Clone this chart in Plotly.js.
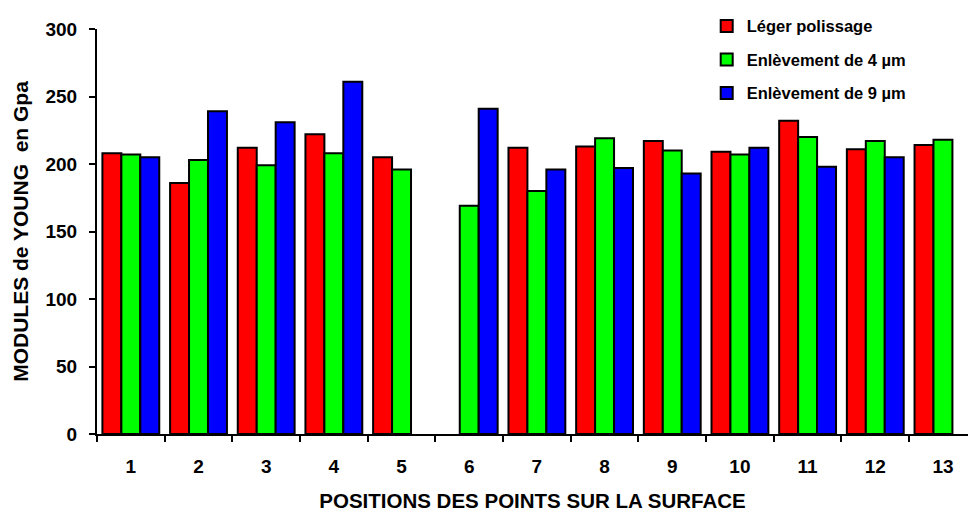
<!DOCTYPE html>
<html><head><meta charset="utf-8">
<script src="https://cdn.plot.ly/plotly-3.0.1.min.js"></script>
<style>html,body{margin:0;padding:0;background:#fff}#c{width:968px;height:512px}</style>
</head><body><div id="c"></div>
<script>
const categories = ['1','2','3','4','5','6','7','8','9','10','11','12','13'];
const legerPolissage = [208, 186, 212, 222, 205, null, 212, 213, 217, 209, 232, 211, 214];
const enlevement4 = [207, 203, 199, 208, 196, 169, 180, 219, 210, 207, 220, 217, 218];
const enlevement9 = [205, 239, 231, 261, null, 241, 196, 197, 193, 212, 198, 205, null];
const seriesNames = ['Léger polissage', 'Enlèvement de 4 µm', 'Enlèvement de 9 µm'];
const colors = ['#ff0000', '#00ff00', '#0000ff'];
const yTicks = [0, 50, 100, 150, 200, 250, 300];

const F = 'Arial, "Liberation Sans", sans-serif';
const data = [legerPolissage, enlevement4, enlevement9].map((ys, i) => ({
  type: 'bar', x: categories, y: ys, name: seriesNames[i], legendgroup: 'g' + i,
  marker: {color: colors[i], line: {color: '#000', width: 2}}
}));
const layout = {
  width: 968, height: 512,
  margin: {l: 97, r: 0, t: 29, b: 78},
  paper_bgcolor: '#fff', plot_bgcolor: '#fff',
  barmode: 'group', bargap: 0.16, bargroupgap: 0,
  font: {family: F, size: 18, color: '#000', weight: 'bold'},
  xaxis: {
    type: 'category', range: [-0.5, 12.37], tickson: 'boundaries',
    showline: true, linecolor: '#000', linewidth: 2,
    ticks: 'outside', ticklen: 6, tickwidth: 2, tickcolor: '#000',
    showgrid: false, zeroline: false,
    tickfont: {family: F, size: 19, weight: 'bold'}, ticklabelstandoff: 14,
    title: {text: 'POSITIONS DES POINTS SUR LA SURFACE', font: {family: F, size: 20.5, weight: 'bold'}, standoff: 18}
  },
  yaxis: {
    range: [0, 300], tickvals: yTicks, showline: true, linecolor: '#000', linewidth: 2,
    ticks: 'outside', ticklen: 6, tickwidth: 2, tickcolor: '#000',
    showgrid: false, zeroline: false,
    tickfont: {family: F, size: 19, weight: 'bold'}, ticklabelstandoff: 8,
    title: {text: 'MODULES de YOUNG  en Gpa', font: {family: F, size: 21, weight: 'bold'}, standoff: 11}
  },
  legend: {
    x: 0.70, y: 1.05, xanchor: 'left', yanchor: 'top',
    bgcolor: 'rgba(0,0,0,0)', tracegroupgap: 9,
    font: {family: F, size: 16.5, weight: 'bold'}
  },
  showlegend: true
};
Plotly.newPlot('c', data, layout, {displayModeBar: false, staticPlot: true});
</script></body></html>
